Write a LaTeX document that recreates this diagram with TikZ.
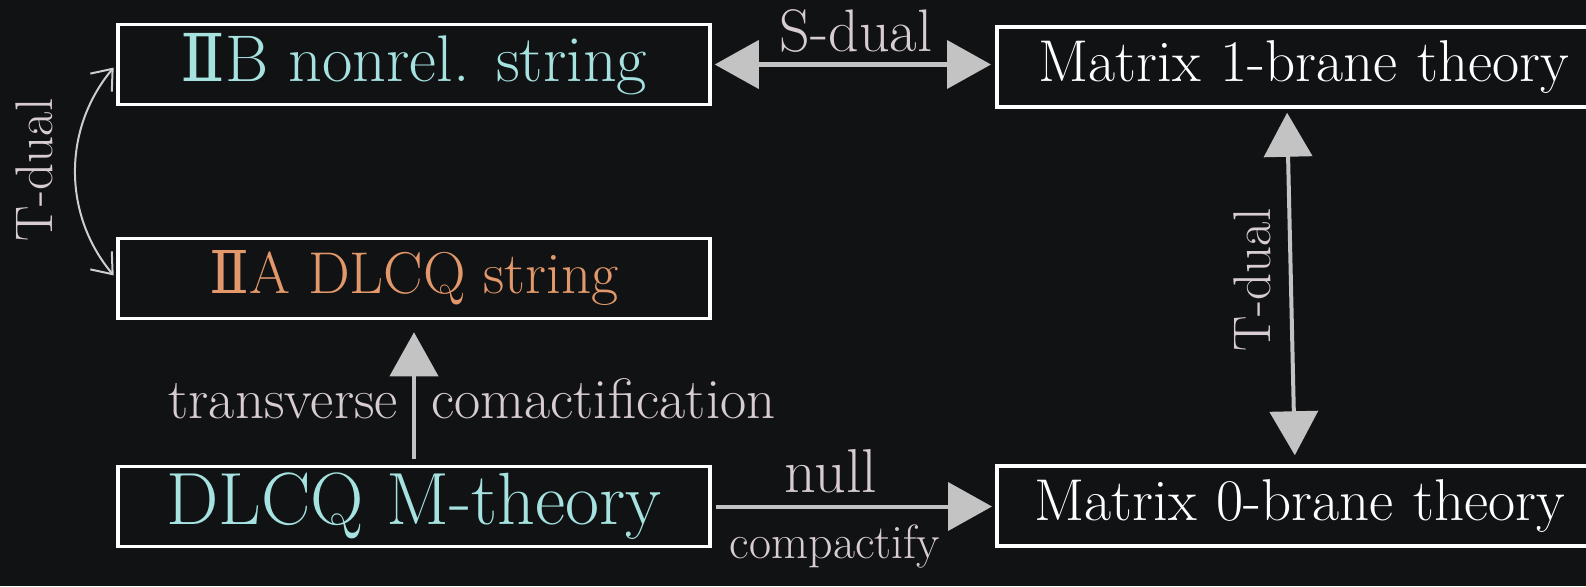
\documentclass[tikz,border=0pt]{standalone}
\usepackage{fontspec}
\newfontfamily\numfont{DejaVu Serif}
\usetikzlibrary{arrows.meta}

\definecolor{bg}{RGB}{17,18,20}
\definecolor{cyantext}{RGB}{165,226,224}
\definecolor{orangetext}{RGB}{226,152,106}
\definecolor{labeltext}{RGB}{216,204,212}
\definecolor{arrowgray}{RGB}{195,195,195}
\definecolor{curvegray}{RGB}{205,205,205}

\newcommand{\RomII}{{\numfont Ⅱ}}

\tikzset{
  theorybox/.style={draw=white, line width=3.5pt, minimum width=592pt,
    minimum height=80pt, inner sep=0pt, align=center},
  widebox/.style={theorybox, minimum width=680pt, anchor=west,
    text width=660pt, align=left},
  boxfont/.style={font=\fontsize{#1}{#1}\selectfont},
  lbl/.style={text=labeltext, inner sep=0pt, font=\fontsize{#1}{#1}\selectfont},
  bigarrow/.style={draw=arrowgray, line width=4pt,
    -{Triangle[length=44pt,width=48pt]}},
  bigdouble/.style={draw=arrowgray, line width=4pt,
    {Triangle[length=44pt,width=48pt]}-{Triangle[length=44pt,width=48pt]}},
  barbdouble/.style={draw=curvegray, line width=2pt,
    {Straight Barb[length=18pt,width=28pt]}-{Straight Barb[length=18pt,width=28pt]}},
}

\begin{document}
\begin{tikzpicture}[x=1pt, y=-1pt]
  % canvas
  \fill[bg] (0,0) rectangle (1586,586);
  \useasboundingbox (0,0) rectangle (1586,586);
  \clip (0,0) rectangle (1586,586);

  % theory boxes on the left
  \node[theorybox, text=cyantext, boxfont=66] (iib) at (414,64.5) {\RomII B nonrel. string};
  \node[theorybox, text=orangetext, boxfont=59] (iia) at (414,278.5) {\RomII A DLCQ string};
  \node[theorybox, text=cyantext, boxfont=74] (dlcq) at (414,506.5) {DLCQ M-theory};

  % matrix theory boxes, running off the right edge
  \node[widebox, text=white, boxfont=59] (m1) at (995,67)
    {\hspace*{32pt}Matrix 1-brane theory};
  \node[widebox, text=white, boxfont=59] (m0) at (995,506)
    {\hspace*{28pt}Matrix 0-brane theory};

  % S-duality
  \draw[bigdouble, shorten <=3pt, shorten >=4pt] (iib.east) -- (iib.east -| m1.west);
  \node[lbl=60, anchor=base] (sdual) at (856,52) {S-dual};

  % null compactification
  \draw[bigarrow, shorten <=4pt, shorten >=3pt] (dlcq.east) -- (dlcq.east -| m0.west);
  \node[lbl=62, anchor=base] (null) at (831,492) {null};
  \node[lbl=48, anchor=base] (compactify) at (835,558) {compactify};

  % transverse compactification
  \draw[bigarrow, shorten <=6pt, shorten >=12pt] (dlcq.north) -- (iia.south);
  \node[lbl=57, anchor=base east] (transverse) at (398,418) {transverse};
  \node[lbl=57, anchor=base west] (comact) at (431,418) {comactification};

  % T-duality between the matrix theories
  \coordinate (tdtop) at (1287,0);
  \coordinate (tdbot) at (1295,0);
  \draw[bigdouble, shorten <=4pt, shorten >=9pt]
    (m1.south -| tdtop) -- (m0.north -| tdbot);
  \node[lbl=53, anchor=base, rotate=90] (tdualr) at (1270,280) {T-dual};

  % T-duality between the string theories
  \draw[barbdouble, shorten <=4pt, shorten >=4pt]
    (iib.west) to[bend right=40] (iia.west);
  \node[lbl=53, anchor=base, rotate=90] (tduall) at (52,170) {T-dual};
\end{tikzpicture}
\end{document}
